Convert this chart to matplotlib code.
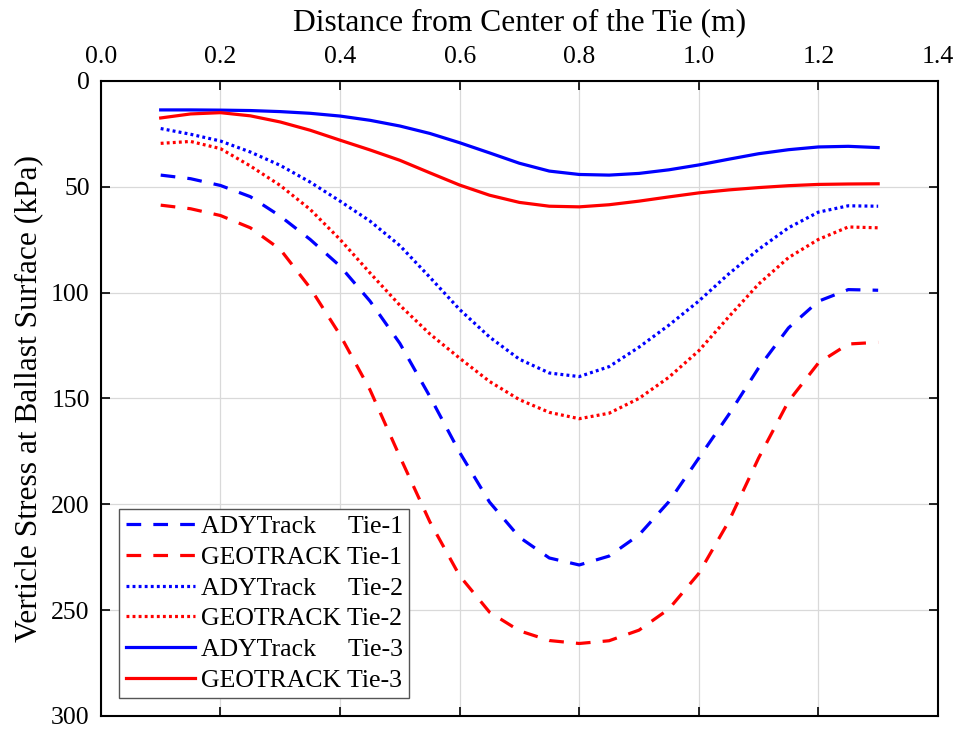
import numpy as np
import matplotlib
matplotlib.use("Agg")
import matplotlib.pyplot as plt

plt.rcParams['font.family'] = ['Liberation Serif', 'DejaVu Serif']
plt.rcParams['font.size'] = 18.5

# distance from the tie centre (m)
dist = [0.10, 0.15, 0.20, 0.25, 0.30, 0.35, 0.40, 0.45, 0.50, 0.55, 0.60, 0.65, 0.70,
        0.75, 0.80, 0.85, 0.90, 0.95, 1.00, 1.05, 1.10, 1.15, 1.20, 1.25, 1.30]

# vertical stress at the ballast surface (kPa)
ady_tie1 = [44.5, 46.2, 49.4, 54.7, 63.9, 74.9, 87.5, 104.0, 124.0, 149.0, 175.5, 199.0, 215.6,
            225.4, 228.7, 224.5, 214.5, 198.8, 178.2, 157.7, 135.6, 116.7, 104.1, 98.6, 98.9]
geo_tie1 = [58.7, 60.4, 63.6, 69.4, 79.6, 97.8, 120.0, 145.9, 177.5, 208.2, 233.8, 251.0, 259.8,
            264.4, 265.8, 264.5, 259.5, 249.5, 232.7, 208.2, 178.2, 151.4, 133.3, 124.3, 123.5]
ady_tie2 = [22.5, 25.2, 28.4, 33.6, 39.9, 47.8, 56.8, 66.2, 77.8, 92.7, 108.0, 121.0, 131.5,
            138.0, 139.7, 135.0, 125.8, 115.4, 104.0, 91.2, 79.6, 69.4, 62.0, 59.0, 59.2]
geo_tie2 = [29.5, 28.6, 32.0, 40.2, 49.4, 60.7, 74.9, 90.7, 106.0, 119.5, 131.0, 142.0, 150.6,
            156.6, 159.6, 157.0, 150.0, 140.0, 127.5, 111.5, 96.0, 83.5, 74.9, 69.0, 69.4]
ady_tie3 = [13.7, 13.7, 13.8, 14.0, 14.5, 15.3, 16.6, 18.6, 21.3, 24.8, 29.2, 34.0, 38.9,
            42.6, 44.2, 44.5, 43.7, 42.0, 39.7, 37.0, 34.4, 32.5, 31.2, 30.9, 31.5]
geo_tie3 = [17.5, 15.6, 15.0, 16.5, 19.4, 23.3, 28.0, 32.6, 37.5, 43.4, 49.2, 54.0, 57.4,
            59.2, 59.5, 58.5, 56.8, 54.8, 52.9, 51.5, 50.4, 49.5, 48.9, 48.7, 48.6]

labels = ['ADYTrack     Tie-1', 'GEOTRACK Tie-1',
          'ADYTrack     Tie-2', 'GEOTRACK Tie-2',
          'ADYTrack     Tie-3', 'GEOTRACK Tie-3']

fig = plt.figure(figsize=(9.61, 7.29), dpi=100)
ax = fig.add_axes([0.105, 0.018, 0.871, 0.871])

lw = 2.3
dash = (4.6, 3.8)
dot = (0.9, 1.0)
ax.plot(dist, ady_tie1, color='#0000ff', lw=lw, dashes=dash, label=labels[0])
ax.plot(dist, geo_tie1, color='#ff0000', lw=lw, dashes=dash, label=labels[1])
ax.plot(dist, ady_tie2, color='#0000ff', lw=lw, dashes=dot, label=labels[2])
ax.plot(dist, geo_tie2, color='#ff0000', lw=lw, dashes=dot, label=labels[3])
ax.plot(dist, ady_tie3, color='#0000ff', lw=lw, label=labels[4])
ax.plot(dist, geo_tie3, color='#ff0000', lw=lw, label=labels[5])

ax.set_xlim(0, 1.4)
ax.set_ylim(300, 0)
ax.set_xticks(np.arange(0, 1.41, 0.2))
ax.set_yticks(np.arange(0, 301, 50))
ax.xaxis.set_major_formatter(matplotlib.ticker.FormatStrFormatter('%.1f'))

ax.xaxis.tick_top()
ax.xaxis.set_label_position('top')
ax.tick_params(direction='in', length=6.5, width=1.2, top=True, bottom=True,
               left=True, right=True, labeltop=True, labelbottom=False)
ax.tick_params(axis='x', pad=9)
ax.tick_params(axis='y', pad=8)
for s in ax.spines.values():
    s.set_linewidth(1.5)

ax.grid(True, color='#d9d9d9', linewidth=0.9)
ax.set_axisbelow(True)

ax.set_xlabel('Distance from Center of the Tie (m)', fontsize=22.7, labelpad=12)
ax.set_ylabel('Verticle Stress at Ballast Surface (kPa)', fontsize=22.7, labelpad=6)

leg = ax.legend(loc='lower left', bbox_to_anchor=(0.022, 0.028), borderaxespad=0,
                handlelength=2.7, handletextpad=0.22, labelspacing=0.3,
                borderpad=0.25, fancybox=False, framealpha=1)
leg.get_frame().set_edgecolor('#555555')
leg.get_frame().set_linewidth(1.0)

fig.savefig('out.png', dpi=100)
